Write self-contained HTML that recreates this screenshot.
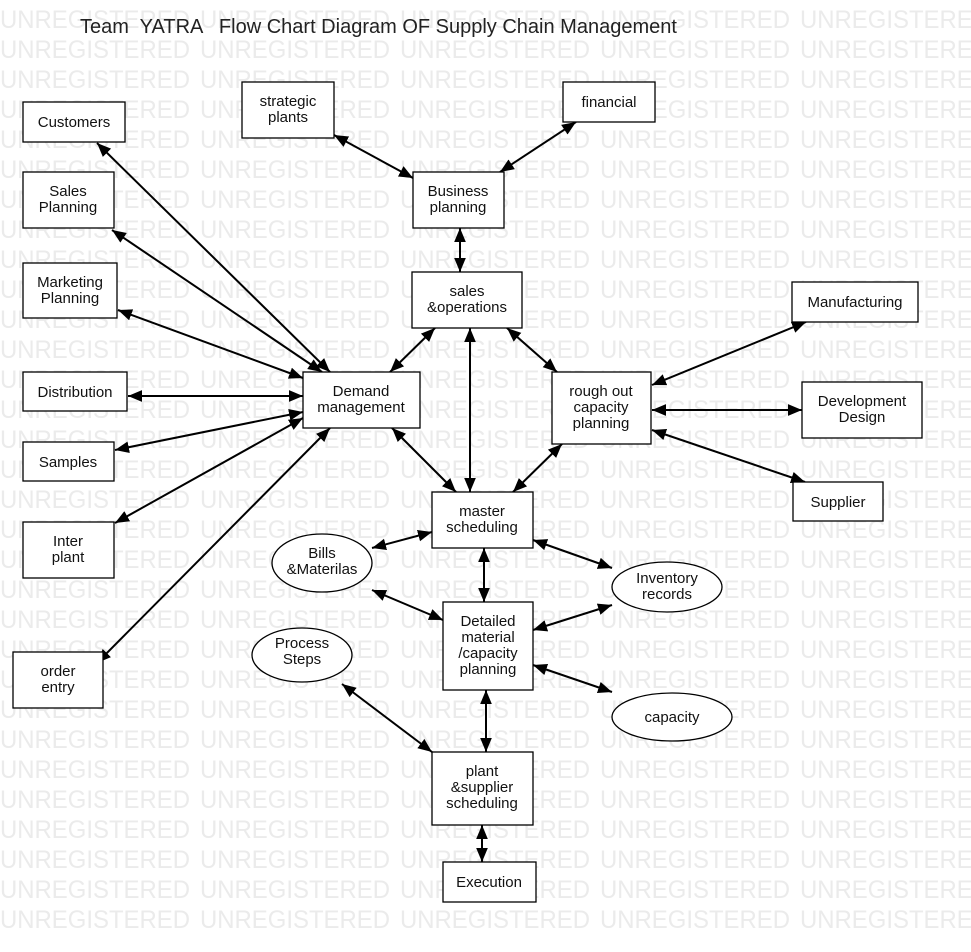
<!DOCTYPE html>
<html><head><meta charset="utf-8"><style>
body{margin:0;background:#fff}
svg{display:block;font-family:"Liberation Sans",sans-serif}
.wm{font-size:25px;fill:#ebebeb}
.b{fill:#fff;stroke:#000;stroke-width:1.3}
.t{font-size:15px;fill:#111;text-anchor:middle}
.a{stroke:#000;stroke-width:2;marker-start:url(#m);marker-end:url(#m)}
</style></head><body>
<svg width="971" height="952" viewBox="0 0 971 952">
<defs><marker id="m" viewBox="0 0 12 10" refX="12" refY="5" markerWidth="7" markerHeight="6" orient="auto-start-reverse"><path d="M0,0L12,5L0,10z" fill="#000"/></marker></defs>
<g class="wm" id="wm"></g>
<text x="80" y="33" style="font-size:20px;fill:#222;white-space:pre" xml:space="preserve">Team  YATRA   Flow Chart Diagram OF Supply Chain Management</text>
<g>
<line class="a" x1="97" y1="143" x2="330" y2="372"/>
<line class="a" x1="112" y1="230" x2="322" y2="372"/>
<line class="a" x1="118" y1="310" x2="303" y2="378"/>
<line class="a" x1="128" y1="396" x2="303" y2="396"/>
<line class="a" x1="115" y1="450" x2="303" y2="412"/>
<line class="a" x1="115" y1="523" x2="303" y2="418"/>
<line class="a" x1="97" y1="663" x2="330" y2="428"/>
<line class="a" x1="334" y1="135" x2="413" y2="178"/>
<line class="a" x1="576" y1="122" x2="500" y2="172"/>
<line class="a" x1="460" y1="228" x2="460" y2="272"/>
<line class="a" x1="435" y1="328" x2="390" y2="372"/>
<line class="a" x1="470" y1="328" x2="470" y2="492"/>
<line class="a" x1="507" y1="328" x2="557" y2="372"/>
<line class="a" x1="392" y1="428" x2="456" y2="492"/>
<line class="a" x1="562" y1="444" x2="513" y2="492"/>
<line class="a" x1="652" y1="385" x2="806" y2="322"/>
<line class="a" x1="652" y1="410" x2="802" y2="410"/>
<line class="a" x1="652" y1="430" x2="805" y2="482"/>
<line class="a" x1="432" y1="532" x2="372" y2="548"/>
<line class="a" x1="533" y1="540" x2="612" y2="568"/>
<line class="a" x1="484" y1="548" x2="484" y2="602"/>
<line class="a" x1="372" y1="590" x2="443" y2="620"/>
<line class="a" x1="533" y1="630" x2="612" y2="605"/>
<line class="a" x1="533" y1="665" x2="612" y2="692"/>
<line class="a" x1="486" y1="690" x2="486" y2="752"/>
<line class="a" x1="342" y1="684" x2="432" y2="752"/>
<line class="a" x1="482" y1="825" x2="482" y2="862"/>
</g>
<g>
<rect class="b" x="23" y="102" width="102" height="40"/><text class="t" x="74" y="127">Customers</text>
<rect class="b" x="23" y="172" width="91" height="56"/><text class="t" x="68" y="196">Sales</text><text class="t" x="68" y="212">Planning</text>
<rect class="b" x="23" y="263" width="94" height="55"/><text class="t" x="70" y="287">Marketing</text><text class="t" x="70" y="303">Planning</text>
<rect class="b" x="23" y="372" width="104" height="39"/><text class="t" x="75" y="397">Distribution</text>
<rect class="b" x="23" y="442" width="91" height="39"/><text class="t" x="68" y="467">Samples</text>
<rect class="b" x="23" y="522" width="91" height="56"/><text class="t" x="68" y="546">Inter</text><text class="t" x="68" y="562">plant</text>
<rect class="b" x="13" y="652" width="90" height="56"/><text class="t" x="58" y="676">order</text><text class="t" x="58" y="692">entry</text>
<rect class="b" x="242" y="82" width="92" height="56"/><text class="t" x="288" y="106">strategic</text><text class="t" x="288" y="122">plants</text>
<rect class="b" x="563" y="82" width="92" height="40"/><text class="t" x="609" y="107">financial</text>
<rect class="b" x="413" y="172" width="91" height="56"/><text class="t" x="458" y="196">Business</text><text class="t" x="458" y="212">planning</text>
<rect class="b" x="412" y="272" width="110" height="56"/><text class="t" x="467" y="296">sales</text><text class="t" x="467" y="312">&amp;operations</text>
<rect class="b" x="303" y="372" width="117" height="56"/><text class="t" x="361" y="396">Demand</text><text class="t" x="361" y="412">management</text>
<rect class="b" x="552" y="372" width="99" height="72"/><text class="t" x="601" y="396">rough out</text><text class="t" x="601" y="412">capacity</text><text class="t" x="601" y="428">planning</text>
<rect class="b" x="792" y="282" width="126" height="40"/><text class="t" x="855" y="307">Manufacturing</text>
<rect class="b" x="802" y="382" width="120" height="56"/><text class="t" x="862" y="406">Development</text><text class="t" x="862" y="422">Design</text>
<rect class="b" x="793" y="482" width="90" height="39"/><text class="t" x="838" y="507">Supplier</text>
<rect class="b" x="432" y="492" width="101" height="56"/><text class="t" x="482" y="516">master</text><text class="t" x="482" y="532">scheduling</text>
<rect class="b" x="443" y="602" width="90" height="88"/><text class="t" x="488" y="626">Detailed</text><text class="t" x="488" y="642">material</text><text class="t" x="488" y="658">/capacity</text><text class="t" x="488" y="674">planning</text>
<rect class="b" x="432" y="752" width="101" height="73"/><text class="t" x="482" y="776">plant</text><text class="t" x="482" y="792">&amp;supplier</text><text class="t" x="482" y="808">scheduling</text>
<rect class="b" x="443" y="862" width="93" height="40"/><text class="t" x="489" y="887">Execution</text>
<ellipse class="b" cx="322" cy="563" rx="50" ry="29"/><text class="t" x="322" y="558">Bills</text><text class="t" x="322" y="574">&amp;Materilas</text>
<ellipse class="b" cx="667" cy="587" rx="55" ry="25"/><text class="t" x="667" y="583">Inventory</text><text class="t" x="667" y="599">records</text>
<ellipse class="b" cx="302" cy="655" rx="50" ry="27"/><text class="t" x="302" y="648">Process</text><text class="t" x="302" y="664">Steps</text>
<ellipse class="b" cx="672" cy="717" rx="60" ry="24"/><text class="t" x="672" y="722">capacity</text>
</g>
</svg>
<script>
var g=document.getElementById('wm'),s='';
for(var y=28;y<=940;y+=30)for(var x=0;x<971;x+=200)s+='<text x="'+x+'" y="'+y+'" textLength="190" lengthAdjust="spacingAndGlyphs">UNREGISTERED</text>';
g.innerHTML=s;
</script>
</body></html>
